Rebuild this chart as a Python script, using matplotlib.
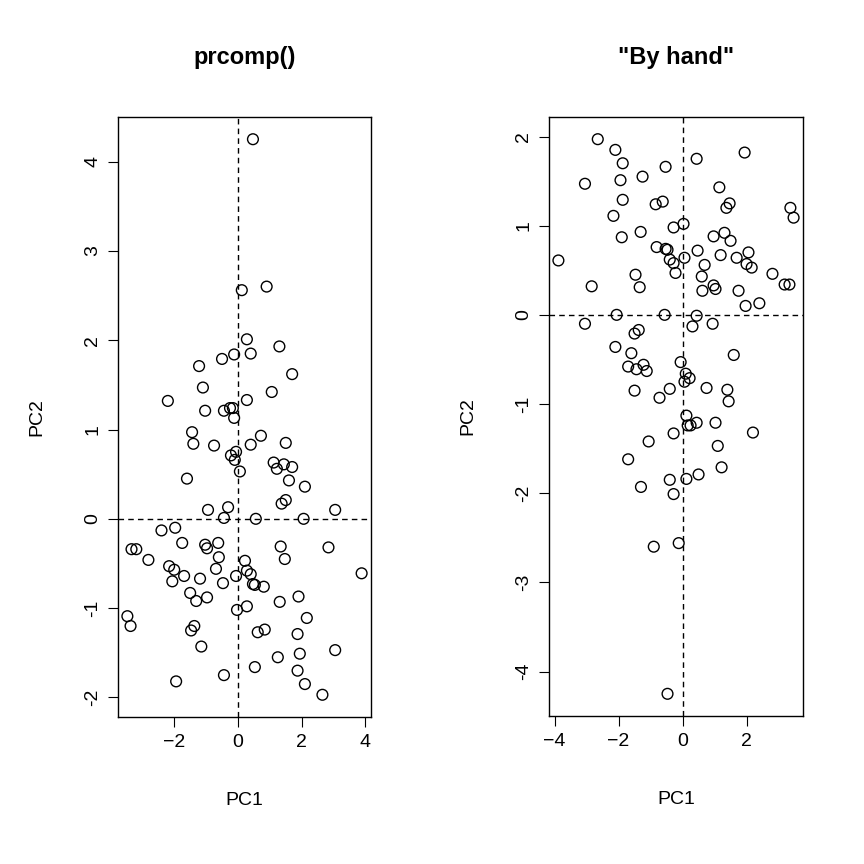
import matplotlib
matplotlib.use("Agg")
import matplotlib.pyplot as plt

pc1 = [0.47,0.12,0.9,0.28,1.3,-1.22,-0.5,-0.12,0.4,1.7,-1.1,1.06,-2.2,0.28,-1.03,-0.44,-0.25,-0.16,-0.12,-1.44,0.72,-1.4,-0.75,0.4,1.5,-0.06,-0.22,-0.1,1.12,1.44,1.22,1.7,0.06,-1.6,1.6,2.1,1.5,1.37,-0.94,-0.31,3.05,-0.44,0.56,2.06,-1.97,-2.4,-1.75,-1.03,-0.97,-0.62,1.34,2.84,-3.34,-3.19,-2.81,-0.6,0.22,1.47,-2.16,-2.0,-0.69,0.28,0.4,-1.69,-1.19,-0.06,-2.06,-0.47,0.47,0.53,0.81,3.88,-1.5,-0.97,1.9,-1.31,1.31,0.28,-0.03,-3.47,2.16,-3.37,-1.37,-1.47,0.84,0.62,1.87,-1.15,3.05,1.94,1.25,0.53,1.87,-1.94,2.1,-0.44,2.65]
pc2 = [4.25,2.56,2.6,2.01,1.93,1.71,1.79,1.84,1.85,1.62,1.47,1.42,1.32,1.33,1.21,1.21,1.24,1.24,1.13,0.97,0.93,0.84,0.82,0.83,0.85,0.75,0.71,0.66,0.63,0.61,0.56,0.58,0.53,0.45,0.43,0.36,0.21,0.17,0.1,0.13,0.1,0.01,0.0,0.0,-0.1,-0.13,-0.27,-0.29,-0.33,-0.27,-0.31,-0.32,-0.34,-0.34,-0.46,-0.43,-0.47,-0.45,-0.53,-0.57,-0.56,-0.58,-0.62,-0.64,-0.67,-0.64,-0.7,-0.72,-0.73,-0.74,-0.76,-0.61,-0.83,-0.88,-0.87,-0.92,-0.93,-0.98,-1.02,-1.09,-1.11,-1.2,-1.2,-1.25,-1.24,-1.27,-1.29,-1.43,-1.47,-1.51,-1.55,-1.66,-1.7,-1.82,-1.85,-1.75,-1.97]

hand_pc1 = [-0.47,-0.12,-0.9,-0.28,-1.3,1.22,0.5,0.12,-0.4,-1.7,1.1,-1.06,2.2,-0.28,1.03,0.44,0.25,0.16,0.12,1.44,-0.72,1.4,0.75,-0.4,-1.5,0.06,0.22,0.1,-1.12,-1.44,-1.22,-1.7,-0.06,1.6,-1.6,-2.1,-1.5,-1.37,0.94,0.31,-3.05,0.44,-0.56,-2.06,1.97,2.4,1.75,1.03,0.97,0.62,-1.34,-2.84,3.34,3.19,2.81,0.6,-0.22,-1.47,2.16,2.0,0.69,-0.28,-0.4,1.69,1.19,0.06,2.06,0.47,-0.47,-0.53,-0.81,-3.88,1.5,0.97,-1.9,1.31,-1.31,-0.28,0.03,3.47,-2.16,3.37,1.37,1.47,-0.84,-0.62,-1.87,1.15,-3.05,-1.94,-1.25,-0.53,-1.87,1.94,-2.1,0.44,-2.65]
hand_pc2 = [-4.25,-2.56,-2.6,-2.01,-1.93,-1.71,-1.79,-1.84,-1.85,-1.62,-1.47,-1.42,-1.32,-1.33,-1.21,-1.21,-1.24,-1.24,-1.13,-0.97,-0.93,-0.84,-0.82,-0.83,-0.85,-0.75,-0.71,-0.66,-0.63,-0.61,-0.56,-0.58,-0.53,-0.45,-0.43,-0.36,-0.21,-0.17,-0.1,-0.13,-0.1,-0.01,0.0,0.0,0.1,0.13,0.27,0.29,0.33,0.27,0.31,0.32,0.34,0.34,0.46,0.43,0.47,0.45,0.53,0.57,0.56,0.58,0.62,0.64,0.67,0.64,0.7,0.72,0.73,0.74,0.76,0.61,0.83,0.88,0.87,0.92,0.93,0.98,1.02,1.09,1.11,1.2,1.2,1.25,1.24,1.27,1.29,1.43,1.47,1.51,1.55,1.66,1.7,1.82,1.85,1.75,1.97]

left_xticks = [-2, 0, 2, 4]
left_yticks = [-2, -1, 0, 1, 2, 3, 4]
right_xticks = [-4, -2, 0, 2]
right_yticks = [-4, -3, -2, -1, 0, 1, 2]

plt.rcParams['font.family'] = ['Liberation Sans', 'DejaVu Sans']
fig = plt.figure(figsize=(8.64, 8.64), dpi=100)

def panel(rect, x, y, title, xt, yt):
    ax = fig.add_axes(rect)
    ax.scatter(x, y, s=60, facecolors='none', edgecolors='black', linewidths=1)
    ax.margins(0.04)
    ax.axhline(0, color='black', ls='--', lw=1, dashes=(4, 3))
    ax.axvline(0, color='black', ls='--', lw=1, dashes=(4, 3))
    ax.set_xticks(xt)
    ax.set_yticks(yt)
    ax.set_yticklabels([str(v) for v in yt], rotation=90, va='center')
    ax.tick_params(labelsize=14, length=7, pad=5)
    ax.set_xlabel('PC1', fontsize=14, labelpad=30)
    ax.set_ylabel('PC2', fontsize=14, labelpad=28)
    ax.set_title(title, fontsize=17, fontweight='bold', pad=38)
    for s in ax.spines.values():
        s.set_linewidth(1)
    return ax

panel([118/864, 147/864, 253/864, 600/864], pc1, pc2, 'prcomp()', left_xticks, left_yticks)
panel([549/864, 148/864, 254/864, 599/864], hand_pc1, hand_pc2, '"By hand"', right_xticks, right_yticks)

fig.savefig('out.png', dpi=100)
